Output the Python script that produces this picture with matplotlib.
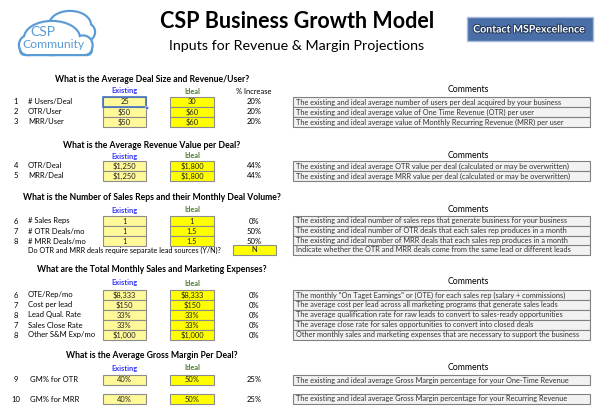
import matplotlib.pyplot as plt
from matplotlib.patches import Rectangle, Circle, Ellipse, FancyBboxPatch
import matplotlib.patheffects as pe

# sheet content
section_titles = [
    "What is the Average Deal Size and Revenue/User?",
    "What is the Average Revenue Value per Deal?",
    "What is the Number of Sales Reps and their Monthly Deal Volume?",
    "What are the Total Monthly Sales and Marketing Expenses?",
    "What is the Average Gross Margin Per Deal?",
]
section_rows = [3, 2, 3, 5, 2]

# the sheet numbers the expense rows 6,7,8,7,8
row_nums = ["1", "2", "3", "4", "5", "6", "7", "8", "6", "7", "8", "7", "8", "9", "10"]
row_labels = ["# Users/Deal", "OTR/User", "MRR/User",
              "OTR/Deal", "MRR/Deal",
              "# Sales Reps", "# OTR Deals/mo", "# MRR Deals/mo",
              "OTE/Rep/mo", "Cost per lead", "Lead Qual. Rate", "Sales Close Rate", "Other S&M Exp/mo",
              "GM% for OTR", "GM% for MRR"]
existing = ["25", "$50", "$50", "$1,250", "$1,250", "1", "1", "1",
            "$8,333", "$150", "33%", "33%", "$1,000", "40%", "40%"]
ideal = ["30", "$60", "$60", "$1,800", "$1,800", "1", "1.5", "1.5",
         "$8,333", "$150", "33%", "33%", "$1,000", "50%", "50%"]
pct_increase = ["20%", "20%", "20%", "44%", "44%", "0%", "50%", "50%",
                "0%", "0%", "0%", "0%", "0%", "25%", "25%"]
comments = [
    "The existing and ideal average number of users per deal acquired by your business",
    "The existing and ideal average value of One Time Revenue (OTR) per user",
    "The existing and ideal average value of Monthly Recurring Revenue (MRR) per user",
    "The existing and ideal average OTR value per deal (calculated or may be overwritten)",
    "The existing and ideal average MRR value per deal (calculated or may be overwritten)",
    "The existing and ideal number of sales reps that generate business for your business",
    "The existing and ideal number of OTR deals that each sales rep produces in a month",
    "The existing and ideal number of MRR deals that each sales rep produces in a month",
    "The monthly \"On Taget Earnings\" or (OTE) for each sales rep (salary + commissions)",
    "The average cost per lead across all marketing programs that generate sales leads",
    "The average qualification rate for raw leads to convert to sales-ready opportunities",
    "The average close rate for sales opportunities to convert into closed deals",
    "Other monthly sales and marketing expenses that are necessary to support the business",
    "The existing and ideal average Gross Margin percentage for your One-Time Revenue",
    "The existing and ideal average Gross Margin percentage for your Recurring Revenue",
]
yn_question = "Do OTR and MRR deals require separate lead sources (Y/N)?"
yn_answer = "N"
yn_comment = "Indicate whether the OTR and MRR deals come from the same lead or different leads"

# layout (pixel coordinates of the 600x413 sheet)
title_y = [80, 145, 198, 270, 355]
colhead_y = [91, 156, 210, 283, 368]
first_row_y = [102, 166, 221, 295, 380]
row_step = [10, 10, 10, 10, 19]
yn_y = 250

plt.rcParams['font.family'] = ['Lato', 'DejaVu Sans']

fig = plt.figure(figsize=(6, 4.13), dpi=100)
ax = fig.add_axes([0, 0, 1, 1])
ax.set_xlim(0, 600)
ax.set_ylim(413, 0)
ax.axis('off')

blue = '#5b9bd5'


def outline(shapes, lw=2.2):
    # draw each shape fat in blue, then white on top -> outline of the union
    for make in shapes:
        ax.add_patch(make(lw, blue))
    for make in shapes:
        ax.add_patch(make(0, 'white'))


back = [lambda g, c: Ellipse((70, 25), 40 + 2 * g, 26 + 2 * g, fc=c, ec='none'),
        lambda g, c: Circle((86, 32), 8 + g, fc=c, ec='none')]
front = [lambda g, c: Ellipse((52, 38), 54 + 2 * g, 32 + 2 * g, fc=c, ec='none'),
         lambda g, c: Circle((29, 45), 9 + g, fc=c, ec='none'),
         lambda g, c: Circle((83, 45), 8.5 + g, fc=c, ec='none'),
         lambda g, c: FancyBboxPatch((21 - g, 40 - g), 70 + 2 * g, 14 + 2 * g,
                                     boxstyle="round,pad=0,rounding_size=7",
                                     fc=c, ec='none')]
outline(back)
outline(front)
ax.text(43, 32, "CSP", color=blue, fontsize=10, ha='center', va='center')
ax.text(53, 44, "Community", color=blue, fontsize=8.7, ha='center', va='center')

# title block
ax.text(297, 22, "CSP Business Growth Model", fontsize=15.5, fontweight='bold',
        ha='center', va='center')
ax.text(297, 46, "Inputs for Revenue & Margin Projections", fontsize=10.3,
        ha='center', va='center')

# contact button
ax.add_patch(Rectangle((467, 17), 126, 24, fc='#4a6ea8', ec='#a9bcd9', lw=1))
ax.text(529, 29, "Contact MSPexcellence", color='white', fontsize=7.6, fontweight='bold',
        ha='center', va='center',
        path_effects=[pe.withStroke(linewidth=1.4, foreground='#1f3558')])

cell_h = 10
ex_x, ex_w = 103, 43
id_x, id_w = 170, 44
cm_x, cm_w = 293, 297
pct_x = 254
lab_fs = 5.5
cm_fs = 5.3


def cell(x, y, w, text, fc, ec='#8c8c8c'):
    ax.add_patch(Rectangle((x, y - cell_h / 2), w, cell_h, fc=fc, ec=ec, lw=0.8))
    ax.text(x + w / 2, y, text, fontsize=5.4, ha='center', va='center', color='#222222')


def comment_box(y, text):
    ax.add_patch(Rectangle((cm_x, y - cell_h / 2), cm_w, cell_h, fc='#f2f2f2',
                           ec='#808080', lw=0.8))
    ax.text(cm_x + 3, y, text, fontsize=cm_fs, ha='left', va='center', color='#333333')


k = 0
for s, title in enumerate(section_titles):
    ax.text(152, title_y[s], title, fontsize=6.2, fontweight='bold', ha='center', va='center')
    ax.text(ex_x + ex_w / 2, colhead_y[s], "Existing", fontsize=5.3, fontweight='bold',
            color='#3333ff', ha='center', va='center')
    ax.text(id_x + id_w / 2, colhead_y[s], "Ideal", fontsize=5.3, fontweight='bold',
            color='#4e7b2c', ha='center', va='center')
    ax.text(468, colhead_y[s] - 1, "Comments", fontsize=6.3, ha='center', va='center')
    if s == 0:
        ax.text(pct_x, colhead_y[s] + 1, "% Increase", fontsize=5.4, ha='center', va='center')
    for i in range(section_rows[s]):
        y = first_row_y[s] + i * row_step[s]
        ax.text(16, y, row_nums[k], fontsize=lab_fs, ha='center', va='center')
        ax.text(28 if s < 4 else 30, y, row_labels[k], fontsize=lab_fs, ha='left', va='center')
        cell(ex_x, y, ex_w, existing[k], '#fff99a')
        cell(id_x, y, id_w, ideal[k], '#ffff00')
        ax.text(pct_x, y, pct_increase[k], fontsize=lab_fs, ha='center', va='center')
        comment_box(y, comments[k])
        k += 1
    if s == 2:
        ax.text(28, yn_y, yn_question, fontsize=5.2, ha='left', va='center')
        cell(233, yn_y, 43, yn_answer, '#ffff00')
        comment_box(yn_y, yn_comment)

# active cell highlight on first input
ax.add_patch(Rectangle((ex_x, first_row_y[0] - cell_h / 2), ex_w, cell_h, fc='none',
                       ec='#4472c4', lw=1.2))
ax.add_patch(Rectangle((ex_x + ex_w - 1.5, first_row_y[0] + cell_h / 2 - 1.5), 3, 3,
                       fc='#4472c4', ec='white', lw=0.4))

fig.savefig("out.png", dpi=100)
